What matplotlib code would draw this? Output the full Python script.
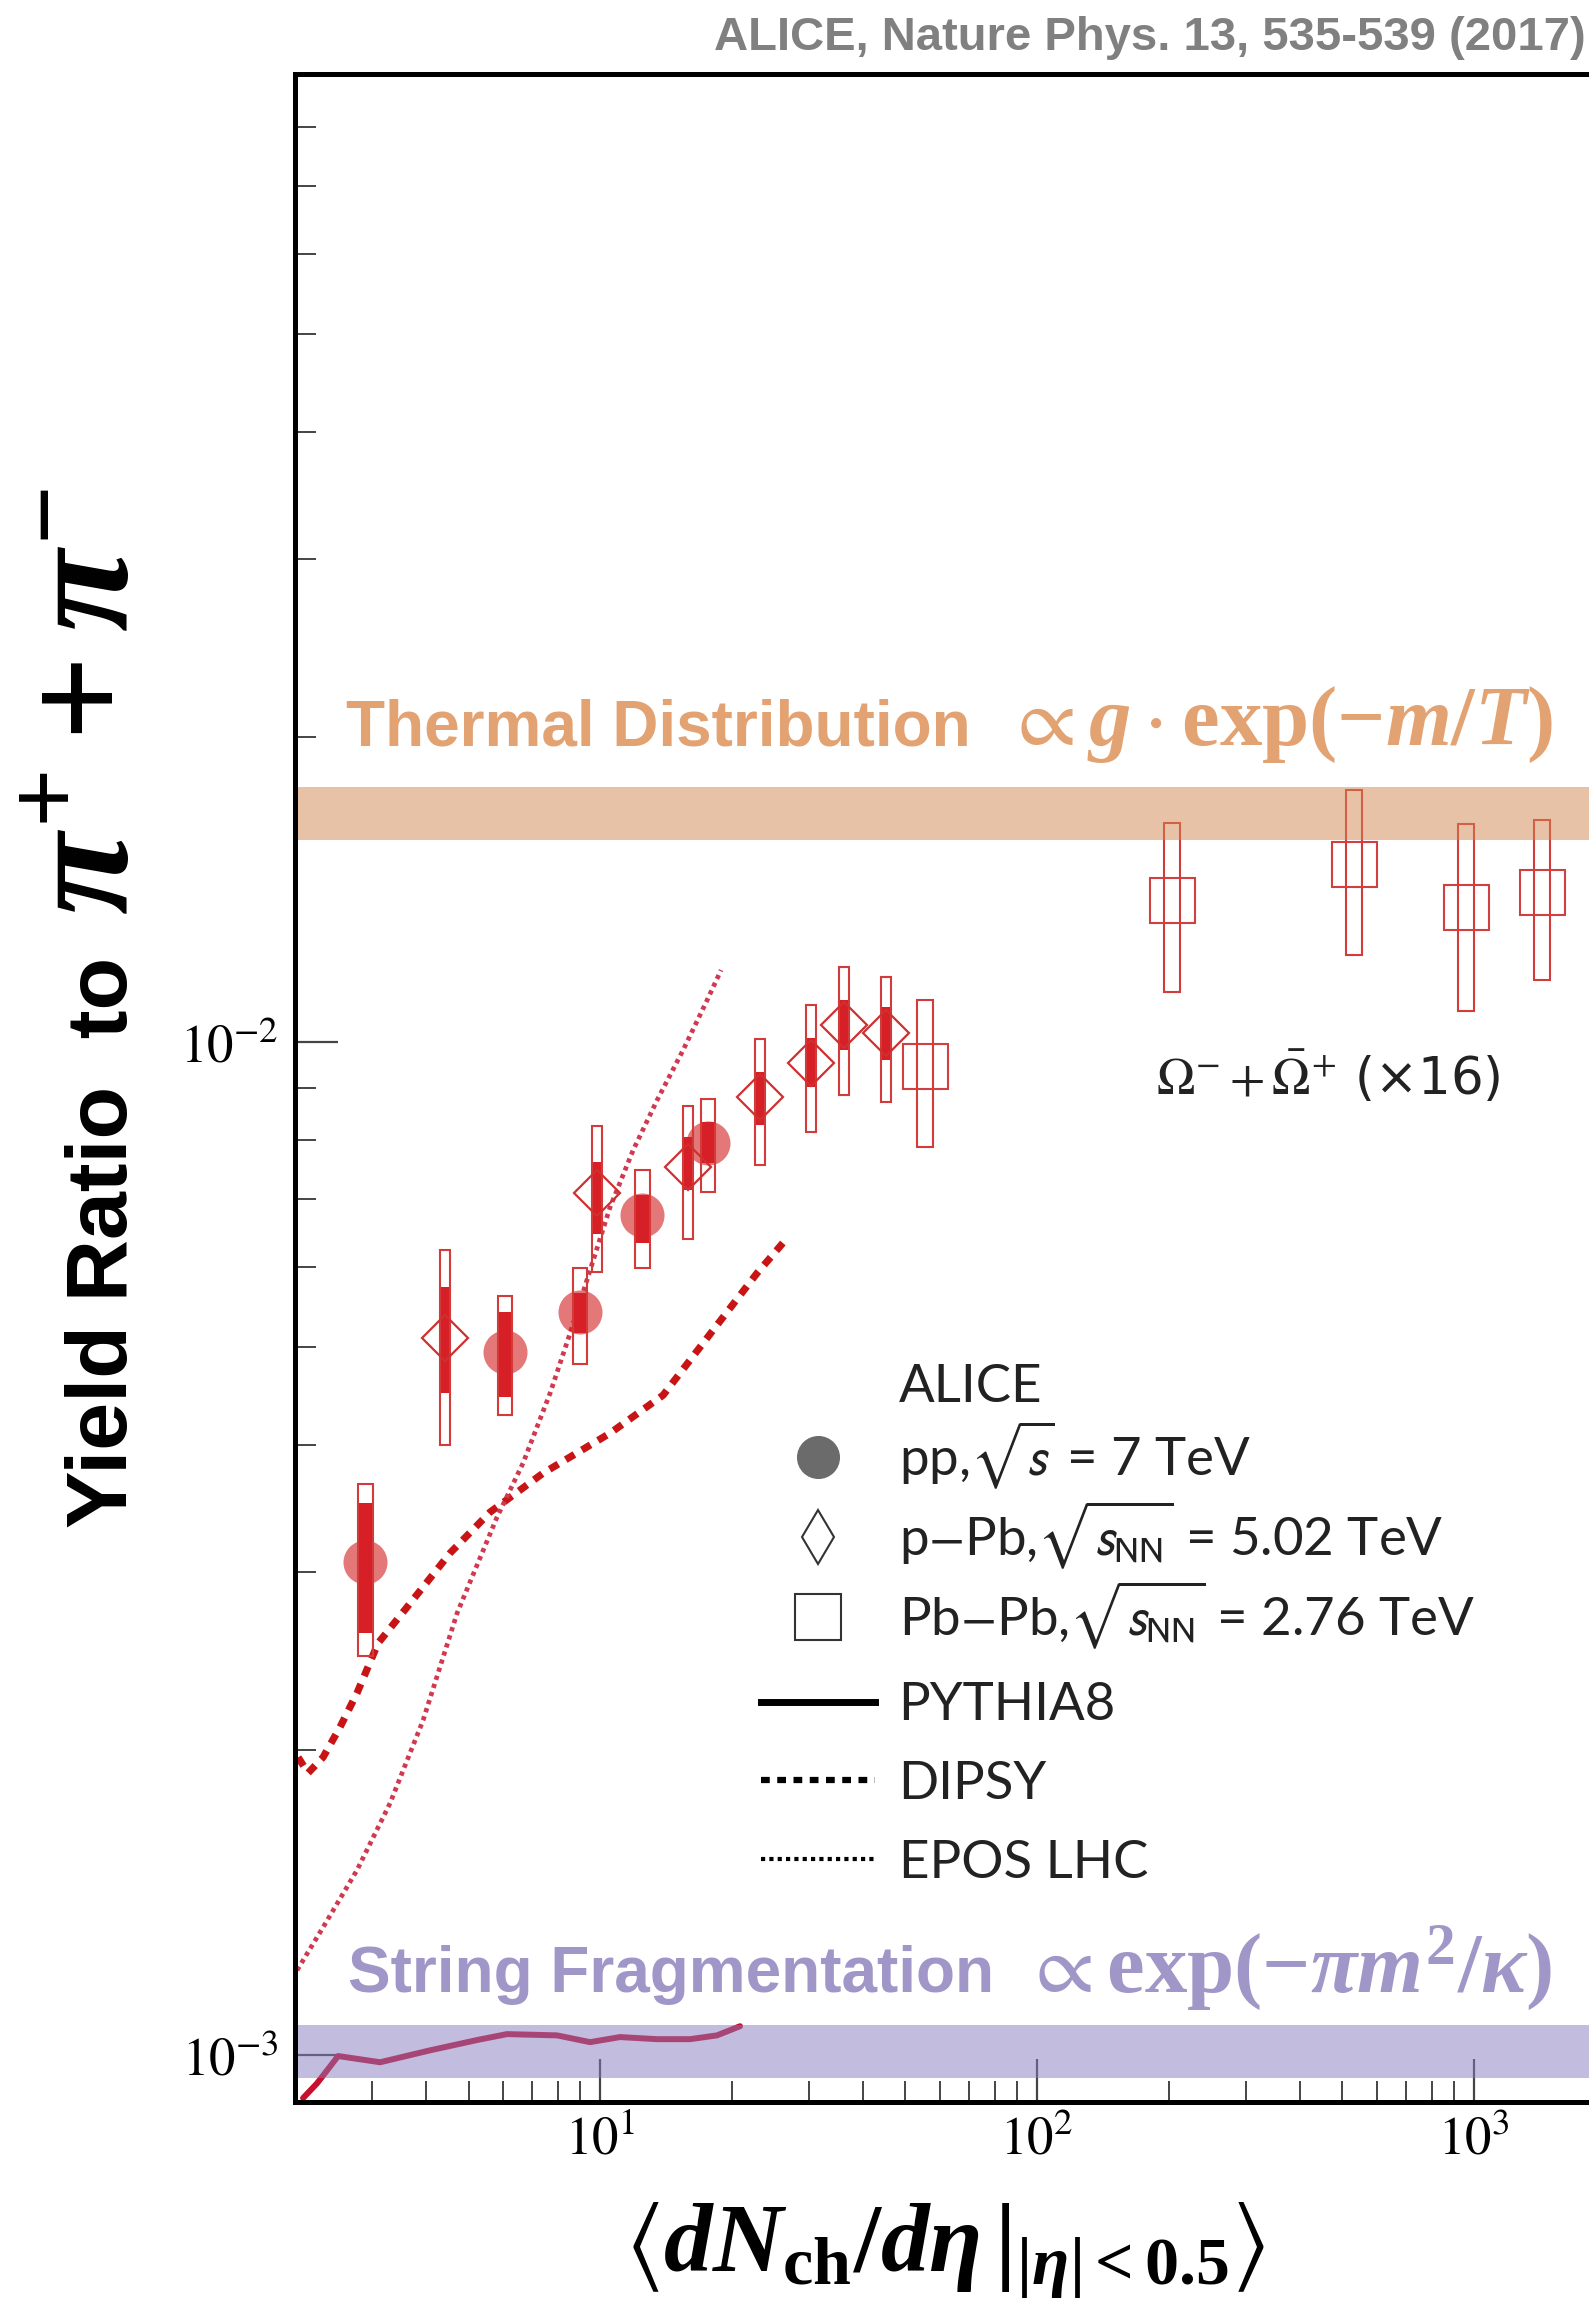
import numpy as np
import matplotlib
matplotlib.use("Agg")
import matplotlib.pyplot as plt
from matplotlib.patches import Rectangle
from matplotlib.lines import Line2D
from matplotlib.ticker import NullFormatter, LogLocator

# default math = stix (times look) for tick labels, "custom" = bold serif for formulas
plt.rcParams['mathtext.fontset'] = 'stix'
plt.rcParams['mathtext.rm'] = 'Liberation Serif:bold'
plt.rcParams['mathtext.it'] = 'Liberation Serif:italic:bold'
plt.rcParams['mathtext.bf'] = 'Liberation Serif:bold'
plt.rcParams['mathtext.fallback'] = 'stix'

# ---- ALICE data: Omega/pi ratio (x16) ----
# pp 7 TeV
pp_x = [2.90, 6.06, 9.00, 12.48, 17.66]
pp_y = [3.07e-3, 4.94e-3, 5.41e-3, 6.75e-3, 7.95e-3]
pp_unc_lo = [2.61e-3, 4.46e-3, 5.16e-3, 6.33e-3, 7.59e-3]
pp_unc_hi = [3.51e-3, 5.41e-3, 5.65e-3, 7.06e-3, 8.34e-3]
pp_sys_lo = [2.48e-3, 4.28e-3, 4.81e-3, 5.98e-3, 7.11e-3]
pp_sys_hi = [3.66e-3, 5.61e-3, 5.98e-3, 7.47e-3, 8.78e-3]

# p-Pb 5.02 TeV
ppb_x = [4.42, 9.84, 15.9, 23.2, 30.4, 36.2, 45.1]
ppb_y = [5.11e-3, 7.10e-3, 7.53e-3, 8.82e-3, 9.53e-3, 1.039e-2, 1.02e-2]
ppb_unc_lo = [4.50e-3, 6.47e-3, 7.14e-3, 8.28e-3, 9.03e-3, 9.82e-3, 9.60e-3]
ppb_unc_hi = [5.73e-3, 7.62e-3, 8.06e-3, 9.34e-3, 1.009e-2, 1.10e-2, 1.083e-2]
ppb_sys_lo = [4.00e-3, 5.93e-3, 6.39e-3, 7.56e-3, 8.15e-3, 8.86e-3, 8.73e-3]
ppb_sys_hi = [6.23e-3, 8.26e-3, 8.65e-3, 1.007e-2, 1.088e-2, 1.186e-2, 1.16e-2]

# Pb-Pb 2.76 TeV
pbpb_x = [55.4, 204, 531, 959, 1431]
pbpb_y = [9.47e-3, 1.381e-2, 1.498e-2, 1.359e-2, 1.406e-2]
pbpb_sys_lo = [7.88e-3, 1.12e-2, 1.219e-2, 1.073e-2, 1.152e-2]
pbpb_sys_hi = [1.10e-2, 1.645e-2, 1.773e-2, 1.641e-2, 1.657e-2]

# ---- MC models ----
dipsy_x = [2.037, 2.147, 2.323, 2.541, 2.779, 3.105, 3.618, 4.538, 5.601, 7.406,
           10.54, 13.94, 18.14, 22.87, 26.79]
dipsy_y = [1.968e-3, 1.899e-3, 1.968e-3, 2.108e-3, 2.278e-3, 2.551e-3, 2.769e-3, 3.131e-3,
           3.436e-3, 3.754e-3, 4.111e-3, 4.482e-3, 5.196e-3, 5.915e-3, 6.405e-3]

epos_x = [2.026, 2.323, 2.779, 3.307, 3.936, 4.708, 5.810, 6.665, 7.686, 8.54,
          10.54, 11.90, 13.50, 15.49, 17.58, 18.92]
epos_y = [1.213e-3, 1.337e-3, 1.523e-3, 1.773e-3, 2.141e-3, 2.731e-3, 3.397e-3, 3.841e-3,
          4.503e-3, 5.16e-3, 6.87e-3, 7.82e-3, 8.76e-3, 9.82e-3, 1.100e-2, 1.178e-2]

pythia_x = [2.091, 2.251, 2.373, 2.515, 3.138, 4.083, 5.230, 6.125, 7.97, 9.49,
            11.11, 13.50, 16.07, 18.52, 20.91]
pythia_y = [9.07e-4, 9.38e-4, 9.66e-4, 9.98e-4, 9.84e-4, 1.011e-3, 1.035e-3, 1.049e-3,
            1.046e-3, 1.030e-3, 1.042e-3, 1.037e-3, 1.037e-3, 1.046e-3, 1.068e-3]

# ---- expectation bands ----
thermal_band = (1.583e-2, 1.786e-2)
string_band = (9.49e-4, 1.070e-3)

W, H = 1589, 2316
fig = plt.figure(figsize=(W / 100, H / 100), dpi=100)
ax = fig.add_axes([295 / W, 1 - 2102 / H, 1294 / W, 2028 / H])
ax.set_xscale('log')
ax.set_yscale('log')
ax.set_xlim(2.004, 1833)
ax.set_ylim(8.99e-4, 9.03e-2)


def boxes(xs, lo, hi, hw, **kw):
    # systematic boxes, hw = half width in decades
    for x, l, h in zip(xs, lo, hi):
        x0, x1 = x * 10 ** -hw, x * 10 ** hw
        ax.add_patch(Rectangle((x0, l), x1 - x0, h - l, **kw))


red = '#d21e1e'
# models
ax.plot(pythia_x, pythia_y, color='#c8102e', lw=4.3, zorder=2, solid_capstyle='round')
ax.plot(dipsy_x, dipsy_y, color='#c81414', lw=5.2, ls=(0, (1.4, 1.2)), zorder=2)
ax.plot(epos_x, epos_y, color='#d03a50', lw=3.4, ls=(0, (0.9, 0.9)), zorder=2)

# pp
ax.plot(pp_x, pp_y, 'o', ms=31.7, color=red, alpha=0.6, mew=0, zorder=3)
boxes(pp_x, pp_unc_lo, pp_unc_hi, 0.017, facecolor='#d61f26', edgecolor='none', zorder=3.2)
boxes(pp_x, pp_sys_lo, pp_sys_hi, 0.017, facecolor='none', edgecolor='#d33a3a', lw=1.5, zorder=3.3)

# p-Pb
boxes(ppb_x, ppb_unc_lo, ppb_unc_hi, 0.012, facecolor='#d61f26', edgecolor='none', zorder=3.2)
boxes(ppb_x, ppb_sys_lo, ppb_sys_hi, 0.012, facecolor='none', edgecolor='#d33a3a', lw=1.5, zorder=3.3)
ax.plot(ppb_x, ppb_y, 'D', ms=23, mfc='none', mec='#cf3030', mew=1.6, zorder=3.4)

# Pb-Pb
boxes(pbpb_x, pbpb_sys_lo, pbpb_sys_hi, 0.018, facecolor='none', edgecolor='#d33a3a', lw=1.5, zorder=3.3)
ax.plot(pbpb_x, pbpb_y, 's', ms=32.4, mfc='none', mec='#d04040', mew=1.5, zorder=3.4)

# bands on top (semi transparent)
ax.axhspan(*thermal_band, color='#d18751', alpha=0.5, lw=0, zorder=5)
ax.axhspan(*string_band, color='#877bbf', alpha=0.5, lw=0, zorder=5)

# axes styling
for s in ['left', 'top', 'bottom']:
    ax.spines[s].set_linewidth(3.6)
    ax.spines[s].set_zorder(10)
ax.spines['right'].set_visible(False)

ax.set_xticks([10, 100, 1000], [r'$10^{1}$', r'$10^{2}$', r'$10^{3}$'])
ax.set_yticks([1e-3, 1e-2], [r'$10^{-3}$', r'$10^{-2}$'])
ax.xaxis.set_minor_locator(LogLocator(base=10, subs=np.arange(2, 10), numticks=20))
ax.yaxis.set_minor_locator(LogLocator(base=10, subs=np.arange(2, 10), numticks=20))
ax.xaxis.set_minor_formatter(NullFormatter())
ax.yaxis.set_minor_formatter(NullFormatter())
ax.tick_params(which='major', direction='in', length=31, width=1.6, color='#444', labelsize=38)
ax.tick_params(which='minor', direction='in', length=15, width=1.4, color='#444')
ax.tick_params(axis='x', which='major', pad=8)
ax.tick_params(axis='y', which='major', pad=12)
ax.tick_params(top=False, right=False)

# band labels
orange_txt = '#e2a272'
purple_txt = '#a096c8'
ax.text(0.0394, 0.669, 'Thermal Distribution', transform=ax.transAxes, fontsize=46,
        fontweight='bold', family='Liberation Sans', color=orange_txt, va='baseline')
ax.text(0.548, 0.669, r'$\propto g\cdot\mathrm{exp}(-m/T)$', transform=ax.transAxes, fontsize=61,
        color=orange_txt, va='baseline', math_fontfamily='custom')
ax.text(0.041, 0.0542, 'String Fragmentation', transform=ax.transAxes, fontsize=46,
        fontweight='bold', family='Liberation Sans', color=purple_txt, va='baseline')
ax.text(0.562, 0.0542, r'$\propto \mathrm{exp}(-\pi m^{2}/\kappa)$', transform=ax.transAxes,
        fontsize=61, color=purple_txt, va='baseline', math_fontfamily='custom')

ax.text(0.665, 0.505, r'$\mathit{\Omega}^{-} + \bar{\mathit{\Omega}}^{+}$ (×16)', transform=ax.transAxes,
        fontsize=37, family='DejaVu Sans', color='#222', va='center', math_fontfamily='stix')

# legends: data markers and model lines
leg_prop = {'family': ['Lato', 'DejaVu Sans'], 'size': 38}
data_handles = [
    Line2D([], [], ls='none'),
    Line2D([], [], marker='o', ls='none', ms=31, color='#6b6b6b', mew=0),
    Line2D([], [], marker='d', ls='none', ms=27, mfc='none', mec='#333', mew=1.5),
    Line2D([], [], marker='s', ls='none', ms=33, mfc='none', mec='#333', mew=1.5),
]
data_labels = ['ALICE',
               r'pp,$\sqrt{s}$ = 7 TeV',
               r'p$-$Pb,$\sqrt{s_{\rm NN}}$ = 5.02 TeV',
               r'Pb$-$Pb,$\sqrt{s_{\rm NN}}$ = 2.76 TeV']
model_handles = [
    Line2D([], [], color='k', lw=5),
    Line2D([], [], color='k', lw=4.5, ls=(0, (1.4, 1.2))),
    Line2D([], [], color='k', lw=3, ls=(0, (1, 1))),
]
model_labels = ['PYTHIA8', 'DIPSY', 'EPOS LHC']

leg1 = ax.legend(data_handles, data_labels, loc='upper left', bbox_to_anchor=(0.360, 0.364),
                 frameon=False, borderpad=0, borderaxespad=0, handlelength=2.16,
                 handletextpad=0.45, labelspacing=0.14, prop=leg_prop)
ax.add_artist(leg1)
leg2 = ax.legend(model_handles, model_labels, loc='upper left', bbox_to_anchor=(0.360, 0.207),
                 frameon=False, borderpad=0, borderaxespad=0, handlelength=2.16,
                 handletextpad=0.45, labelspacing=0.60, prop=leg_prop)
for lg in (leg1, leg2):
    for t in lg.get_texts():
        t.set_math_fontfamily('stixsans')
        t.set_color('#222')
    lg.set_zorder(6)

# axis titles (y title in two pieces: text + larger pi symbols)
fig.text(127 / W, 1 - 1528 / H, 'Yield Ratio  to', rotation=90, rotation_mode='anchor',
         ha='left', va='baseline', fontsize=62, fontweight='bold', family='Liberation Sans')
fig.text(129 / W, 1 - 915 / H, r'$\pi^{+}+\pi^{-}$', rotation=90, rotation_mode='anchor',
         ha='left', va='baseline', fontsize=108, math_fontfamily='custom')
fig.text(945 / W, 1 - 2250 / H,
         r'$\left\langle dN_{\mathrm{ch}}/d\eta\,|_{|\eta|<0.5}\right\rangle$',
         ha='center', va='center', fontsize=70, math_fontfamily='custom')

fig.text(1586 / W, 1 - 38 / H, 'ALICE, Nature Phys. 13, 535-539 (2017)', ha='right',
         va='center', fontsize=34, fontweight='bold', color='#808080',
         family=['Liberation Sans Narrow', 'Liberation Sans'])

fig.savefig('out.png', dpi=100)
